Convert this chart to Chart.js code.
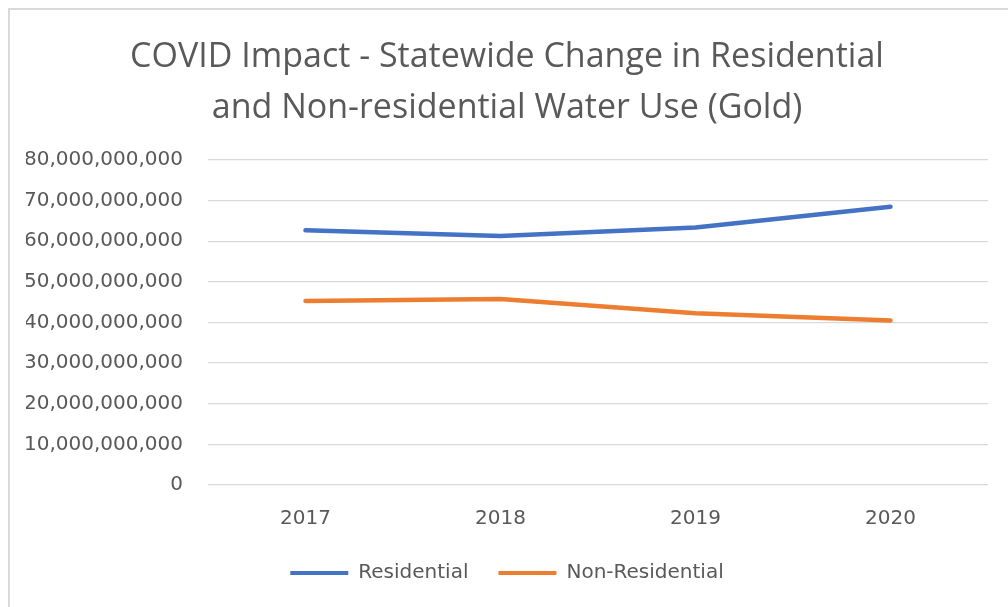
<!DOCTYPE html>
<html>
<head>
<meta charset="utf-8">
<script src="https://cdn.jsdelivr.net/npm/chart.js@4/dist/chart.umd.min.js"></script>
<style>
    html, body { margin: 0; padding: 0; background: #fff; }
    #frame {
        position: absolute;
        left: 8px;
        top: 8px;
        width: 998px;
        height: 597px;
        border-left: 2px solid #d9d9d9;
        border-top: 2px solid #d9d9d9;
        overflow: hidden;
    }
</style>
</head>
<body>
<div id="frame">
    <canvas id="waterChart" width="998" height="597"></canvas>
</div>
<script>
(function () {
    'use strict';

    const YEARS = ['2017', '2018', '2019', '2020'];
    const RESIDENTIAL = [62700000000, 61300000000, 63400000000, 68500000000];
    const NON_RESIDENTIAL = [45300000000, 45800000000, 42300000000, 40500000000];
    const TITLE_LINES = [
        'COVID Impact - Statewide Change in Residential',
        'and Non-residential Water Use (Gold)'
    ];

    const TEXT_COLOR = '#595959';
    const GRID_COLOR = '#d9d9d9';
    const BASE_FONT = '"DejaVu Sans", sans-serif';

    const canvas = document.getElementById('waterChart');

    new Chart(canvas, {
        type: 'line',
        data: {
            labels: YEARS,
            datasets: [
                {
                    label: 'Residential',
                    data: RESIDENTIAL,
                    borderColor: '#4472C4',
                    backgroundColor: '#4472C4',
                    borderWidth: 4.5,
                    pointRadius: 0,
                    tension: 0,
                    borderCapStyle: 'round'
                },
                {
                    label: 'Non-Residential',
                    data: NON_RESIDENTIAL,
                    borderColor: '#ED7D31',
                    backgroundColor: '#ED7D31',
                    borderWidth: 4.5,
                    pointRadius: 0,
                    tension: 0,
                    borderCapStyle: 'round'
                }
            ]
        },
        options: {
            responsive: false,
            animation: false,
            // left padding nudges title and legend right, as in the original
            layout: { padding: { left: 16, right: 20, top: 0, bottom: 14 } },
            plugins: {
                title: {
                    display: true,
                    text: TITLE_LINES,
                    color: TEXT_COLOR,
                    font: { family: '"Open Sans", sans-serif', size: 34, weight: 'normal', lineHeight: 1.5 },
                    padding: { top: 21.5, bottom: 26.5 }
                },
                legend: {
                    position: 'bottom',
                    labels: {
                        color: TEXT_COLOR,
                        font: { family: BASE_FONT, size: 20 },
                        boxWidth: 58,
                        boxHeight: 4,
                        padding: 30,
                        generateLabels(chart) {
                            const items = Chart.defaults.plugins.legend.labels.generateLabels(chart);
                            items.forEach(it => { it.lineWidth = 0; });
                            return items;
                        }
                    }
                },
                tooltip: { enabled: false }
            },
            scales: {
                x: {
                    offset: true,
                    afterFit(scale) { scale.height = 48; },
                    grid: { display: false, drawTicks: false },
                    border: { display: false },
                    ticks: {
                        color: TEXT_COLOR,
                        font: { family: BASE_FONT, size: 20 },
                        padding: 22
                    }
                },
                y: {
                    min: 0,
                    max: 80000000000,
                    afterFit(scale) { scale.width = 182; },
                    grid: { color: GRID_COLOR, lineWidth: 1.3, drawTicks: false },
                    border: { display: false },
                    ticks: {
                        stepSize: 10000000000,
                        color: TEXT_COLOR,
                        font: { family: BASE_FONT, size: 20 },
                        padding: 25,
                        callback: v => Number(v).toLocaleString('en-US')
                    }
                }
            }
        }
    });
})();
</script>
</body>
</html>
